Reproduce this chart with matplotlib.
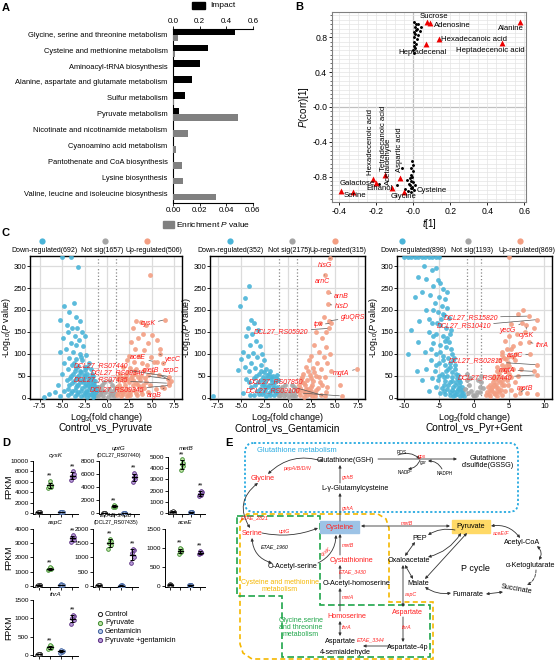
import numpy as np
import matplotlib
matplotlib.use("Agg")
import matplotlib.pyplot as plt
from matplotlib.patches import Rectangle, FancyBboxPatch, Polygon
from matplotlib.lines import Line2D
from matplotlib.ticker import MultipleLocator

plt.rcParams['font.family'] = ['Liberation Sans', 'DejaVu Sans']
plt.rcParams['mathtext.fontset'] = 'custom'
plt.rcParams['mathtext.rm'] = 'Liberation Sans'
plt.rcParams['mathtext.it'] = 'Liberation Sans:italic'
plt.rcParams['mathtext.bf'] = 'Liberation Sans:bold'
plt.rcParams['axes.unicode_minus'] = False

W, H = 557, 660

# ---------------- A: pathway enrichment ----------------
pathways = ['Glycine, serine and threonine metabolism', 'Cysteine and methionine metabolism',
            'Aminoacyl-tRNA biosynthesis', 'Alanine, aspartate and glutamate metabolism',
            'Sulfur metabolism', 'Pyruvate metabolism', 'Nicotinate and nicotinamide metabolism',
            'Cyanoamino acid metabolism', 'Pantothenate and CoA biosynthesis',
            'Lysine biosynthesis', 'Valine, leucine and isoleucine biosynthesis']
impact = [0.465, 0.26, 0.20, 0.145, 0.09, 0.045, 0.01, 0.0, 0.0, 0.0, 0.0]
enrich_p = [0.004, 0.0015, 0.0, 0.0, 0.0005, 0.049, 0.011, 0.002, 0.0068, 0.0078, 0.032]

# ---------------- B: S-plot ----------------
b_names = ['Sucrose', 'Adenosine', 'Alanine', 'Hexadecanoic acid', 'Heptadecenal', 'Heptadecenoic acid',
           'Hexadecenoic acid', 'Tetradecanoic acid', 'Acetaldehyde', 'Aspartic acid',
           'Galactose', 'Serine', 'Ethanol', 'Glycine']
b_t = [0.075, 0.09, 0.578, 0.141, 0.069, 0.481, -0.22, -0.151, -0.114, -0.07, -0.389, -0.326, -0.2, -0.052]
b_p = [0.975, 0.96, 0.975, 0.78, 0.723, 0.735, -0.823, -0.777, -0.935, -0.82, -0.96, -0.975, -0.87, -0.975]
b_dots_t = [0.005, 0.012, 0.008, 0.02, 0.015, 0.003, 0.01, 0.025, 0.006, 0.018, 0.004, 0.012, 0.002, 0.009,
            0.001, 0.005, 0.035, 0.04, 0.028, -0.005, -0.002, -0.01, -0.004, -0.015, -0.008, -0.02, -0.012,
            -0.003, -0.025, -0.018, -0.006, -0.035, -0.045, -0.028, -0.01, -0.06, -0.09, -0.015, 0.01, 0.005,
            -0.185, -0.007]
b_dots_p = [0.97, 0.95, 0.92, 0.9, 0.88, 0.86, 0.84, 0.83, 0.8, 0.78, 0.75, 0.72, 0.7, 0.68,
            0.65, 0.62, 0.87, 0.92, 0.95, -0.62, -0.67, -0.7, -0.74, -0.78, -0.8, -0.82, -0.85,
            -0.86, -0.88, -0.9, -0.92, -0.84, -0.94, -0.96, -0.98, -0.7, -0.9, -0.93, -0.9, -0.95,
            -0.88, -0.93]

# ---------------- C: volcano plots ----------------
c1_down = [(-5.0, 320), (-4.0, 320), (-3.2, 297), (-4.8, 210), (-3.7, 215), (-5.2, 178), (-4.2, 195), (-3.5, 185),
           (-3.0, 175), (-4.5, 165), (-3.9, 158), (-3.3, 160), (-2.8, 150), (-4.3, 150), (-3.6, 140), (-4.9, 135),
           (-3.1, 132), (-2.5, 140), (-4.0, 125), (-3.4, 120), (-2.7, 118), (-5.3, 105), (-4.6, 110), (-3.8, 105),
           (-3.0, 100), (-2.3, 98), (-4.2, 90), (-3.5, 88), (-2.8, 85), (-2.0, 80), (-4.8, 80), (-3.9, 75),
           (-3.2, 72), (-2.5, 70), (-1.8, 65), (-4.4, 65), (-3.6, 60), (-2.9, 58), (-2.2, 55), (-1.5, 50),
           (-5.0, 55), (-4.0, 50), (-3.3, 48), (-2.6, 45), (-1.9, 42), (-1.3, 38), (-4.5, 40), (-3.7, 38),
           (-3.0, 35), (-2.3, 32), (-1.6, 30), (-1.1, 25), (-5.5, 30), (-4.2, 28), (-3.5, 25), (-2.8, 22),
           (-2.0, 20), (-1.4, 18), (-4.8, 15), (-3.9, 15), (-3.2, 12), (-2.5, 10), (-1.8, 8), (-1.2, 6),
           (-6.5, 8), (-5.8, 12), (-4.4, 5), (-3.6, 4), (-2.9, 3), (-2.2, 2), (-1.5, 2), (-5.2, 3), (-7.0, 2),
           (-2.1, 28), (-2.7, 35), (-1.7, 55), (-2.4, 62), (-3.4, 67), (-1.2, 12), (-2.0, 45), (-1.6, 15),
           (-2.6, 52), (-3.1, 42), (-1.4, 28), (-2.3, 15), (-3.3, 30), (-1.9, 33),
           (-3.8, 55), (-3.1, 52), (-2.4, 50), (-1.7, 47), (-4.1, 44), (-3.4, 42), (-2.7, 40), (-2.1, 37),
           (-1.5, 34), (-3.9, 33), (-3.2, 30), (-2.5, 27), (-1.9, 24), (-1.3, 21), (-4.3, 20), (-3.6, 18),
           (-2.9, 16), (-2.2, 13), (-1.6, 11), (-4.0, 10), (-3.3, 8), (-2.6, 6), (-2.0, 5), (-1.4, 4),
           (-3.0, 60), (-2.2, 70), (-3.7, 78), (-2.9, 92), (-1.5, 40), (-1.1, 18)]
c1_ns = [(-0.9, 25), (-0.5, 18), (-0.2, 12), (0.3, 10), (0.7, 15), (0.9, 22), (-0.8, 8), (-0.4, 4), (0.1, 2),
         (0.5, 5), (0.8, 3), (-0.6, 30), (0.6, 28), (-1.0, 3), (0.2, 20), (-0.3, 35), (0.4, 38), (-0.7, 14), (0.9, 8)]
c1_up = [(4.8, 280), (3.3, 175), (3.8, 172), (4.4, 165), (2.9, 160), (4.0, 145), (5.1, 142), (5.6, 132),
         (3.5, 135), (4.6, 125), (2.7, 128), (5.9, 112), (3.1, 110), (4.2, 108), (2.5, 95), (3.6, 95),
         (4.9, 92), (5.6, 82), (2.2, 85), (3.0, 82), (3.9, 78), (4.5, 75), (1.8, 70), (2.6, 68), (3.3, 65),
         (4.1, 62), (5.0, 58), (5.8, 52), (1.5, 55), (2.1, 52), (2.8, 50), (3.5, 48), (4.3, 45), (1.3, 40),
         (1.9, 38), (2.5, 36), (3.2, 33), (4.0, 30), (4.8, 28), (1.1, 25), (1.6, 22), (2.3, 20), (3.0, 18),
         (3.8, 15), (1.2, 10), (1.8, 8), (2.6, 6), (3.4, 5), (5.5, 20), (6.2, 25), (1.4, 30), (2.0, 44),
         (2.4, 58), (1.7, 14), (2.9, 40), (3.6, 24),
         (1.2, 48), (1.7, 45), (2.2, 42), (2.7, 45), (3.1, 55), (3.7, 40), (4.4, 35), (1.5, 18), (2.0, 15),
         (2.6, 12), (3.2, 10), (3.9, 8), (4.6, 12), (1.1, 5), (1.6, 4), (2.2, 3), (2.9, 28), (3.5, 30),
         (4.2, 22), (2.0, 30), (1.3, 15), (2.4, 8), (3.0, 60), (3.8, 50), (4.6, 52)]
c1_lab_names = ['cysK', 'aceE', 'yecC', 'aspC', 'DCL27_RS07440', 'DCL27_RS09340', 'metB',
                'DCL27_RS07435', 'DCL27_RS09345', 'argB']
c1_lab_pts = [(6.5, 178), (5.3, 82), (5.9, 99), (6.3, 78), (7.0, 48), (6.8, 43), (7.2, 38), (6.9, 33),
              (7.0, 28), (6.4, 22)]

c2_down = [(-4.2, 255), (-4.6, 228), (-5.1, 208), (-3.9, 178), (-3.6, 170), (-4.3, 160), (-3.2, 155), (-3.8, 145),
           (-4.5, 140), (-3.4, 130), (-4.0, 120), (-3.0, 118), (-4.8, 105), (-3.7, 102), (-2.8, 100), (-4.3, 95),
           (-3.3, 92), (-5.0, 88), (-2.6, 85), (-3.9, 80), (-2.9, 75), (-4.6, 70), (-3.5, 68), (-2.3, 65),
           (-5.3, 62), (-4.1, 60), (-3.1, 55), (-2.0, 55), (-1.6, 50), (-2.7, 48), (-3.6, 45), (-4.5, 42),
           (-1.8, 42), (-2.4, 38), (-3.2, 35), (-1.4, 35), (-2.0, 30), (-2.8, 28), (-3.9, 25), (-1.2, 25),
           (-1.7, 20), (-2.4, 18), (-3.3, 15), (-1.3, 12), (-2.0, 10), (-2.8, 8), (-1.5, 5), (-2.3, 3),
           (-3.6, 5), (-8.0, 3), (-4.8, 10), (-1.9, 60), (-2.5, 58), (-1.1, 8), (-2.2, 45), (-1.5, 22),
           (-2.9, 40), (-1.8, 15),
           (-1.3, 45), (-1.7, 35), (-2.1, 25), (-2.6, 32), (-3.0, 20), (-3.5, 30), (-4.1, 35), (-1.4, 15),
           (-1.9, 5), (-2.6, 12), (-3.1, 8), (-4.0, 5), (-1.2, 52), (-2.2, 52), (-2.9, 60), (-3.4, 50),
           (-1.6, 28), (-2.4, 25), (-1.1, 40), (-1.8, 48)]
c2_ns = [(-0.9, 20), (-0.5, 14), (-0.2, 8), (0.3, 9), (0.7, 14), (0.9, 20), (-0.8, 6), (-0.4, 3), (0.1, 2),
         (0.5, 4), (0.8, 3), (-0.6, 25), (0.6, 24), (-1.0, 3), (0.2, 15), (-0.3, 28), (0.4, 30), (-0.7, 12)]
c2_up = [(3.8, 183), (3.4, 170), (4.1, 150), (3.0, 150), (3.6, 135), (2.8, 120), (4.0, 115), (3.3, 105),
         (4.5, 100), (2.5, 95), (3.8, 92), (2.2, 85), (3.1, 80), (4.2, 78), (1.9, 70), (2.7, 68), (3.5, 65),
         (4.6, 60), (1.6, 55), (2.3, 52), (3.0, 50), (3.9, 48), (1.4, 42), (2.0, 40), (2.7, 38), (3.4, 35),
         (1.2, 30), (1.8, 28), (2.5, 25), (3.2, 22), (1.1, 18), (1.6, 15), (2.2, 12), (2.9, 10), (1.3, 6),
         (2.0, 5), (2.6, 3), (5.5, 28), (4.2, 25), (1.5, 35), (2.4, 45), (1.8, 10),
         (1.3, 22), (1.7, 33), (2.1, 20), (2.6, 30), (3.0, 18), (3.6, 28), (4.0, 12), (1.2, 12), (1.7, 2),
         (2.3, 8), (2.9, 4), (3.5, 6), (1.5, 48), (2.1, 60), (2.8, 58), (3.3, 48), (1.9, 20), (2.5, 15)]
c2_lab_names = ['hisG', 'arnC', 'arnB', 'hisD', 'gluQRS', 'tpx', 'DCL27_RS05920', 'mgtA',
                'DCL27_RS07850', 'DCL27_RS09100']
c2_lab_pts = [(4.5, 318), (3.9, 280), (4.3, 240), (4.3, 213), (4.35, 175), (4.6, 170), (4.4, 158),
              (7.3, 65), (3.9, 4), (5.7, 4)]

c3_down = [(-10, 320), (-9.5, 320), (-9, 320), (-8.5, 320), (-8, 320), (-7.5, 320), (-7, 320), (-6.5, 320),
           (-6, 320), (-5.5, 320), (-5, 320), (-7.2, 300), (-6.0, 290), (-5.5, 295), (-8.0, 275), (-6.8, 270),
           (-5.2, 268), (-4.8, 262), (-5.8, 255), (-4.5, 248), (-7.5, 240), (-6.3, 235), (-5.0, 230),
           (-4.2, 225), (-8.5, 230), (-5.6, 215), (-4.6, 210), (-3.9, 205), (-6.8, 200), (-5.2, 195),
           (-4.3, 188), (-3.6, 182), (-7.8, 175), (-6.0, 170), (-4.9, 165), (-4.0, 160), (-3.3, 155),
           (-9.0, 155), (-6.5, 150), (-5.4, 145), (-4.5, 140), (-3.8, 135), (-8.0, 128), (-5.9, 125),
           (-4.8, 120), (-4.0, 115), (-3.3, 110), (-9.5, 100), (-7.0, 105), (-5.5, 100), (-4.5, 95),
           (-3.7, 90), (-3.0, 85), (-6.2, 85), (-5.0, 80), (-4.1, 75), (-3.4, 70), (-2.8, 65), (-6.8, 65),
           (-5.6, 60), (-4.6, 55), (-3.8, 50), (-3.1, 48), (-2.5, 45), (-6.0, 45), (-5.1, 40), (-4.2, 38),
           (-3.5, 35), (-2.8, 30), (-2.2, 28), (-5.5, 25), (-4.6, 22), (-3.8, 20), (-3.1, 18), (-2.4, 15),
           (-1.9, 12), (-4.9, 10), (-4.1, 8), (-3.4, 6), (-2.7, 5), (-2.0, 4), (-1.5, 3), (-6.5, 15),
           (-7.5, 40), (-8.2, 60), (-3.9, 240), (-4.4, 190), (-3.2, 100), (-2.6, 55), (-2.0, 35), (-3.0, 25),
           (-2.3, 20), (-1.8, 25), (-3.6, 128), (-2.9, 90), (-4.7, 180), (-5.3, 170),
           (-2.2, 40), (-2.6, 35), (-3.2, 38), (-3.7, 28), (-4.3, 30), (-1.7, 18), (-2.1, 22), (-2.9, 12),
           (-3.5, 12), (-4.3, 15), (-1.8, 6), (-2.4, 8), (-3.0, 4), (-4.0, 60), (-3.5, 78), (-4.4, 85),
           (-3.1, 58), (-2.7, 75), (-4.9, 105), (-4.2, 130), (-3.5, 145), (-5.8, 140), (-6.2, 110),
           (-2.3, 52), (-1.6, 10), (-5.0, 50), (-4.3, 48), (-3.7, 65), (-5.4, 75), (-6.5, 180), (-5.8, 200)]
c3_ns = [(-1.0, 40), (-0.7, 28), (-0.4, 15), (0.0, 3), (0.4, 12), (0.8, 25), (1.0, 35), (-0.9, 10), (0.9, 12),
         (-0.2, 6), (0.2, 5), (-0.6, 45), (0.6, 40), (-0.95, 55), (0.95, 50), (-1.3, 20), (1.3, 22)]
c3_up = [(5.0, 320), (7.0, 200), (6.2, 190), (5.3, 168), (8.5, 160), (7.2, 150), (6.1, 145), (5.0, 140),
         (4.4, 130), (6.6, 125), (5.6, 118), (4.7, 110), (3.9, 105), (6.0, 100), (5.0, 95), (4.2, 90),
         (3.5, 85), (5.8, 85), (4.8, 80), (3.9, 75), (3.2, 70), (6.7, 65), (5.5, 65), (4.5, 60), (3.6, 55),
         (2.9, 50), (6.2, 50), (5.2, 48), (4.2, 45), (3.4, 40), (2.7, 35), (5.8, 35), (4.8, 30), (3.9, 28),
         (3.1, 25), (2.4, 20), (5.3, 18), (4.4, 15), (3.6, 12), (2.8, 10), (2.1, 8), (1.7, 5), (3.3, 3),
         (4.0, 5), (5.8, 5), (7.6, 10), (9.0, 8), (6.5, 20), (2.3, 30), (3.0, 42), (3.8, 62), (4.5, 72),
         (2.6, 25), (3.3, 15),
         (1.9, 12), (2.3, 4), (2.6, 15), (3.0, 8), (3.4, 22), (3.8, 18), (4.2, 30), (4.7, 40), (5.0, 55),
         (4.0, 38), (3.7, 35), (3.1, 32), (2.8, 28), (2.2, 18), (2.0, 25), (3.5, 48), (4.3, 65), (4.9, 72),
         (5.5, 92), (4.6, 88), (5.2, 110), (4.0, 98), (3.2, 60), (2.7, 45)]
c3_lab_names = ['DCL27_RS15820', 'DCL27_RS10410', 'yecG', 'cysK', 'thrA', 'aspC', 'DCL27_RS02815',
                'mgtA', 'DCL27_RS07440', 'metB']
c3_lab_pts = [(7.8, 186), (9.0, 178), (6.8, 170), (7.4, 165), (7.8, 127), (8.0, 99), (9.0, 75),
              (8.6, 60), (8.9, 52), (6.5, 10)]

# ---------------- D: FPKM of selected genes ----------------
groups = ['Control', 'Pyruvate', 'Gentamicin', 'Pyruvate +gentamicin']
cysk_fpkm = [[60, 120, 90, 150, 100], [4900, 5050, 5200, 5400, 6200], [150, 250, 200, 180, 120], [6400, 6900, 7200, 7500, 8000]]
uptg_fpkm = [[20, 40, 10, 30, 25], [850, 950, 1000, 1100, 1200], [20, 30, 15, 10, 25], [4800, 5200, 5500, 5900, 6200]]
metb_fpkm = [[80, 120, 60, 100, 150], [3800, 4200, 4350, 4500, 4800], [40, 60, 30, 50, 80], [1500, 1600, 1700, 1850, 2000]]
aspc_fpkm = [[20, 40, 30, 50, 10], [1100, 1180, 1220, 1260, 1300], [60, 80, 100, 70, 90], [3100, 3250, 3350, 3450, 3550]]
etae3430_fpkm = [[10, 20, 15, 5, 25], [1300, 1450, 1520, 1580, 1650], [10, 15, 20, 5, 12], [800, 1000, 1150, 1250, 1300]]
acee_fpkm = [[20, 30, 40, 25, 35], [850, 890, 920, 960, 1000], [10, 15, 12, 20, 8], [830, 860, 880, 900, 920]]
thra_fpkm = [[10, 20, 30, 15, 25], [150, 180, 210, 240, 260], [60, 80, 100, 120, 130], [850, 950, 1000, 1050, 1100]]

C_DOWN, C_NS, C_UP = '#4AB4D8', '#A5A5A5', '#F39E82'
D_EDGE = ['#222222', '#3C8B2E', '#3D5E9C', '#5A2D82']
D_FACE = ['#FFFFFF', '#BFE3A6', '#B8CBEA', '#B79CD8']

fig = plt.figure(figsize=(W / 100, H / 100), dpi=100)


def rect(l, t, w, h):
    return [l / W, 1 - (t + h) / H, w / W, h / H]


def ftext(x, y, s, **kw):
    kw.setdefault('ha', 'center')
    kw.setdefault('va', 'center')
    fig.text(x / W, 1 - y / H, s, **kw)


def fdot(x, y, color, ms=4.5):
    fig.add_artist(Line2D([x / W], [1 - y / H], marker='o', ms=ms, color=color, mec='none',
                          transform=fig.transFigure))


for lab, x, y in [('A', 6, 8), ('B', 299, 7), ('C', 6, 233), ('D', 6, 443), ('E', 229, 443)]:
    ftext(x, y, lab, fontsize=8, fontweight='bold')

# ---- panel A ----
axA = fig.add_axes(rect(173, 29, 80, 174))
yy = np.arange(len(pathways))
axA.barh(yy - 0.2, impact, height=0.4, color='black')
axA.set_xlim(0, 0.6)
axA.set_ylim(10.57, -0.38)
axA.set_yticks(yy - 0.05)
axA.set_yticklabels(pathways, fontsize=5.4)
axA.tick_params(axis='y', length=0, pad=4)
axA2 = axA.twiny()
axA2.barh(yy + 0.2, enrich_p, height=0.4, color='#808080')
axA2.set_xlim(0, 0.06)
axA2.xaxis.tick_bottom()
axA2.set_xticks([0, 0.02, 0.04, 0.06])
axA2.set_xticklabels(['0.00', '0.02', '0.04', '0.06'])
axA2.tick_params(axis='x', labelsize=5.8, length=2, width=0.6, pad=1)
for s in ('top', 'right', 'left'):
    axA2.spines[s].set_visible(False)
axA2.spines['bottom'].set_visible(True)
# twiny moves the original ticks to the bottom, put them back on top
axA.xaxis.tick_top()
axA.set_xticks([0, 0.2, 0.4, 0.6])
axA.set_xticklabels(['0.0', '0.2', '0.4', '0.6'])
axA.tick_params(axis='x', labelsize=5.8, length=2, width=0.6, pad=1)
axA.spines['right'].set_visible(False)
axA.spines['bottom'].set_visible(False)
fig.add_artist(Rectangle((192 / W, 1 - 9 / H), 13 / W, 7 / H, color='black', transform=fig.transFigure))
ftext(210, 5.5, 'Impact', fontsize=6, ha='left')
fig.add_artist(Rectangle((163 / W, 1 - 228 / H), 11 / W, 7 / H, color='#808080', transform=fig.transFigure))
ftext(176, 224.5, 'Enrichment $P$ value', fontsize=6, ha='left')

# ---- panel B ----
axB = fig.add_axes(rect(332, 12, 194, 190))
axB.set_xlim(-0.44, 0.61)
axB.set_ylim(-1.09, 1.09)
axB.xaxis.set_minor_locator(MultipleLocator(0.05))
axB.yaxis.set_minor_locator(MultipleLocator(0.05))
axB.grid(which='both', color='#e4e4e4', lw=0.5, zorder=0)
axB.axhline(0, color='#707070', lw=0.8, zorder=1)
axB.axvline(0, color='#707070', lw=0.8, zorder=1)
axB.scatter(b_dots_t, b_dots_p, s=1.2, color='black', zorder=3)
axB.scatter(b_t, b_p, marker='^', s=18, color='#EE0000', lw=0, zorder=4)
axB.set_xticks([-0.4, -0.2, 0, 0.2, 0.4, 0.6])
axB.set_xticklabels(['-0.4', '-0.2', '-0.0', '0.2', '0.4', '0.6'])
axB.set_yticks([-0.8, -0.4, 0, 0.4, 0.8])
axB.set_yticklabels(['-0.8', '-0.4', '-0.0', '0.4', '0.8'])
axB.tick_params(labelsize=6.2, length=2, width=0.6, pad=1.5)
axB.tick_params(axis='x', which='minor', length=0)
axB.tick_params(axis='y', which='minor', length=1.3, width=0.4)
for s in axB.spines.values():
    s.set_color('#808080')
axB.set_xlabel('$t$[1]', fontsize=7, labelpad=1)
axB.set_ylabel('$P$(corr)[1]', fontsize=7, labelpad=1)
b_label_pos = {'Sucrose': (0.11, 1.04), 'Adenosine': (0.209, 0.937), 'Alanine': (0.53, 0.905),
               'Hexadecanoic acid': (0.326, 0.78), 'Heptadecenal': (0.05, 0.625),
               'Heptadecenoic acid': (0.416, 0.643), 'Galactose': (-0.304, -0.88),
               'Ethanol': (-0.182, -0.93), 'Serine': (-0.314, -1.017), 'Glycine': (-0.052, -1.025),
               'Cysteine': (0.101, -0.957)}
for name, (x, y) in b_label_pos.items():
    axB.text(x, y, name, fontsize=5.6, ha='center', va='center', zorder=5)
for name, x, y in [('Hexadecenoic acid', -0.232, -0.777), ('Tetradecanoic acid', -0.161, -0.731),
                   ('Acetaldehyde', -0.134, -0.89), ('Aspartic acid', -0.074, -0.743)]:
    axB.text(x, y, name, fontsize=5.6, rotation=90, ha='center', va='bottom', zorder=5)


# ---- panel C ----
def volcano(l, w, down, ns, up, lab_names, lab_pts, lab_xy, xlim, xticks, counts, leg_x, title):
    ax = fig.add_axes(rect(l, 256, w, 143))
    for arr, c in ((down, C_DOWN), (ns, C_NS), (up, C_UP), (lab_pts, C_UP)):
        a = np.array(arr, dtype=float)
        ax.scatter(a[:, 0], a[:, 1], s=12, color=c, lw=0, alpha=0.9, zorder=3)
    for name, (px, py), (tx, ty) in zip(lab_names, lab_pts, lab_xy):
        ax.annotate(name, xy=(px, py), xytext=(tx, ty), fontsize=5, style='italic', color='#FF1A1A',
                    ha='center', va='center', zorder=6,
                    arrowprops=dict(arrowstyle='-', color='#555555', lw=0.5, shrinkA=0, shrinkB=1.5))
    ax.set_xlim(xlim)
    ax.set_ylim(-3, 323)
    ax.set_xticks(xticks)
    ax.set_yticks(range(0, 301, 50))
    ax.grid(color='#dcdcdc', lw=0.9, zorder=0)
    for v in (-1, 1):
        ax.axvline(v, color='#888888', ls=':', lw=0.9, zorder=1)
    ax.tick_params(labelsize=5.6, length=2, width=0.6, pad=0.8)
    for s in ax.spines.values():
        s.set_linewidth(1.0)
    ax.set_ylabel('-Log$_{10}$($P$ value)', fontsize=6.3, labelpad=0)
    ax.set_xlabel('Log$_{2}$(fold change)', fontsize=6.5, labelpad=0.5)
    ftext(l + w / 2, 428, title, fontsize=7.3)
    names = ['Down-regulated(%d)' % counts[0], 'Not sig(%d)' % counts[1], 'Up-regulated(%d)' % counts[2]]
    for (dx, tx), nm, c in zip(leg_x, names, (C_DOWN, C_NS, C_UP)):
        fdot(dx, 241, c)
        ftext(tx, 250, nm, fontsize=5)
    return ax


volcano(30, 152, c1_down, c1_ns, c1_up, c1_lab_names, c1_lab_pts,
        [(4.6, 168), (3.5, 91), (7.3, 87), (7.15, 63), (-0.7, 72), (1.3, 57.5), (4.9, 63),
         (-0.7, 40), (1.13, 17), (5.3, 6)],
        (-8.6, 8.4), [-7.5, -5, -2.5, 0, 2.5, 5, 7.5], (692, 1657, 506),
        [(42, 44), (105, 102), (147, 154)], 'Control_vs_Pyruvate')
volcano(210, 155, c2_down, c2_ns, c2_up, c2_lab_names, c2_lab_pts,
        [(3.9, 302), (3.7, 265), (5.7, 230), (5.7, 207), (6.9, 183), (3.2, 166), (-0.7, 151),
         (5.7, 56), (-1.3, 36), (-1.55, 15)],
        (-8.3, 8.2), [-7.5, -5, -2.5, 0, 2.5, 5, 7.5], (352, 2175, 315),
        [(230, 230), (292, 289), (335, 338)], 'Control_vs_Gentamicin')
volcano(397, 155, c3_down, c3_ns, c3_up, c3_lab_names, c3_lab_pts,
        [(-0.5, 183), (-1.5, 163), (4.8, 153), (7.5, 142), (9.7, 118), (5.8, 97), (0.33, 84),
         (4.7, 63), (1.5, 45), (7.3, 21)],
        (-11, 11.1), [-10, -5, 0, 5, 10], (898, 1193, 869),
        [(402, 413), (468, 472), (520, 527)], 'Control_vs_Pyr+Gent')

# ---- panel D ----
JIT = [-0.13, 0.1, -0.04, 0.13, 0.02]


def strip(l, t, w, h, vals, ymax, step, title, sub=None, title_y=1.08):
    ax = fig.add_axes(rect(l, t, w, h))
    for i, g in enumerate(vals):
        g = np.array(g, dtype=float)
        x = i + 1
        ax.scatter(x + np.array(JIT[:len(g)]), g, s=7, facecolor=D_FACE[i], edgecolor=D_EDGE[i],
                   lw=0.6, zorder=3)
        m, sd = g.mean(), g.std(ddof=1)
        ax.plot([x - 0.25, x + 0.25], [m, m], color='black', lw=0.9, zorder=4)
        ax.errorbar(x, m, yerr=sd, color='black', lw=0.7, capsize=1.2, capthick=0.7, zorder=4)
        if i in (1, 3):
            ax.text(x, g.max() + ymax * 0.02, '**', ha='center', va='bottom', fontsize=5)
    ax.set_xlim(0.5, 4.5)
    ax.set_ylim(-ymax * 0.02, ymax)
    ax.set_xticks([1, 2, 3, 4])
    ax.set_xticklabels([])
    ax.set_yticks(np.arange(0, ymax + 1, step))
    ax.spines['top'].set_visible(False)
    ax.spines['right'].set_visible(False)
    for s in ax.spines.values():
        s.set_linewidth(0.7)
    ax.tick_params(labelsize=4.6, length=2, width=0.6, pad=1)
    if sub:
        ax.text(0.5, 1.2, title, transform=ax.transAxes, ha='center', fontsize=4.6, style='italic')
        ax.text(0.5, 1.08, sub, transform=ax.transAxes, ha='center', fontsize=3.8)
    else:
        ax.text(0.5, title_y, title, transform=ax.transAxes, ha='center', fontsize=4.6, style='italic')
    return ax


strip(33, 461, 45, 53, cysk_fpkm, 10000, 2000, 'cysK')
strip(99, 461, 40, 53, uptg_fpkm, 8000, 2000, 'uptG', '(DCL27_RS07440)')
strip(168, 457, 37, 57, metb_fpkm, 5000, 1000, 'metB', title_y=1.13)
strip(33, 529, 45, 58, aspc_fpkm, 4000, 1000, 'aspC')
strip(93, 529, 45, 58, etae3430_fpkm, 2000, 500, 'ETAE-3430', '(DCL27_RS07435)')
strip(165, 529, 40, 58, acee_fpkm, 1500, 500, 'aceE')
strip(33, 600, 45, 56, thra_fpkm, 1500, 500, 'thrA')
for yc in (487, 558, 628):
    ftext(9, yc, 'FPKM', fontsize=6.3, rotation=90)
for i, g in enumerate(groups):
    fig.add_artist(Line2D([100 / W], [1 - (614 + 8.7 * i) / H], marker='o', ms=3, mfc=D_FACE[i],
                          mec=D_EDGE[i], mew=0.7, transform=fig.transFigure))
    ftext(105, 614 + 8.7 * i, g, fontsize=5.3, ha='left')

# ---- panel E: pathway scheme ----
axE = fig.add_axes(rect(200, 430, 357, 230))
axE.set_xlim(200, 557)
axE.set_ylim(660, 430)
axE.axis('off')
axE.patch.set_visible(False)

axE.add_patch(FancyBboxPatch((245, 443), 273, 69, boxstyle='round,pad=0,rounding_size=9',
                             fill=False, ec='#27AAE1', ls=(0, (1.2, 1.2)), lw=1.3))
axE.add_patch(Polygon([(240, 522), (247, 514), (378, 514), (386, 519), (389, 528), (389, 602), (433, 602),
                       (433, 659), (252, 659), (243, 653), (240, 644)], closed=True, fill=False,
                      ec='#F5B700', ls=(0, (3, 2)), lw=1.2))
axE.add_patch(Polygon([(237, 516), (320, 516), (320, 605), (430, 605), (430, 657), (282, 657), (282, 596),
                       (237, 596)], closed=True, fill=False, ec='#1FA64A', ls=(0, (4, 2)), lw=1.2))
axE.add_patch(Rectangle((320, 521), 39, 12, color='#9DC3E6', zorder=2))
axE.add_patch(Rectangle((452, 520), 38, 13, color='#FFD966', zorder=2))

RED = '#FF2020'
e_texts = [
    (297, 450, 'Glutathione metabolism', '#27AAE1', 5.4, 'normal'),
    (345, 460, 'Glutathione(GSH)', 'black', 5.2, 'normal'),
    (297, 468, 'pepA/B/D/N', RED, 3.8, 'italic'),
    (263, 478, 'Glycine', RED, 5.2, 'normal'),
    (348, 477, 'gshB', RED, 3.8, 'italic'),
    (355, 488, 'L-γ-Glutamylcysteine', 'black', 5.2, 'normal'),
    (348, 508, 'gshA', RED, 3.8, 'italic'),
    (340, 527, 'Cysteine', RED, 5.2, 'normal'),
    (255, 518, 'ETAE_2821', RED, 3.8, 'italic'),
    (252, 533, 'Serine', RED, 5.2, 'normal'),
    (284, 531, 'uptG', RED, 3.8, 'italic'),
    (275, 547, 'ETAE_1960', 'black', 3.8, 'italic'),
    (293, 566, 'O-Acetyl-serine', 'black', 5.2, 'normal'),
    (348, 545, 'metB', RED, 3.8, 'italic'),
    (352, 560, 'Cystathionine', RED, 5.2, 'normal'),
    (353, 572, 'ETAE_3430', RED, 3.8, 'italic'),
    (357, 583, 'O-Acetyl-homoserine', 'black', 5.2, 'normal'),
    (348, 597, 'metA', RED, 3.8, 'italic'),
    (347, 616, 'Homoserine', RED, 5.2, 'normal'),
    (347, 627, 'thrA', RED, 3.8, 'italic'),
    (340, 641, 'Aspartate', 'black', 5.2, 'normal'),
    (345, 652, '4-semialdehyde', 'black', 5.2, 'normal'),
    (371, 640, 'ETAE_3344', RED, 3.8, 'italic'),
    (280, 586, 'Cysteine and methionine\nmetabolism', '#F5B700', 5.0, 'normal'),
    (301, 627, 'Glycine,serine\nand threonine\nmetabolism', '#1FA64A', 5.0, 'normal'),
    (402, 452, 'ROS', 'black', 3.3, 'normal'),
    (422, 456, 'gpx', RED, 3.6, 'normal'),
    (423, 462, 'gor', 'black', 3.3, 'normal'),
    (405, 473, 'NADP$^{+}$', 'black', 3.3, 'normal'),
    (445, 473, 'NADPH', 'black', 3.3, 'normal'),
    (488, 462, 'Glutathione\ndisulfide(GSSG)', 'black', 5.2, 'normal'),
    (407, 523, 'metB', RED, 3.8, 'italic'),
    (471, 526.5, 'Pyruvate', 'black', 5.2, 'normal'),
    (501, 533, 'aceE/F', RED, 3.8, 'italic'),
    (522, 542, 'Acetyl-CoA', 'black', 5.2, 'normal'),
    (531, 565, 'α-Ketoglutarate', 'black', 5.2, 'normal'),
    (468, 594, 'Fumarate', 'black', 5.2, 'normal'),
    (418, 583, 'Malate', 'black', 5.2, 'normal'),
    (475, 568, 'P cycle', 'black', 6.5, 'normal'),
    (420, 538, 'PEP', 'black', 5.2, 'normal'),
    (409, 560, 'Oxaloacetate', 'black', 5.2, 'normal'),
    (411, 594, 'aspC', RED, 3.8, 'italic'),
    (407, 612, 'Aspartate', RED, 5.2, 'normal'),
    (407, 627, 'thrA', RED, 3.8, 'italic'),
    (408, 647, 'Aspartate-4p', 'black', 5.2, 'normal'),
]
for x, y, s, c, fs, st in e_texts:
    axE.text(x, y, s, color=c, fontsize=fs, style=st, ha='center', va='center', zorder=5,
             linespacing=1.0)
axE.text(517, 589, 'Succinate', fontsize=5.2, ha='center', va='center', rotation=-10, zorder=5)
axE.text(326, 552, 'cysK', color=RED, fontsize=3.8, style='italic', ha='center', va='center',
         rotation=35, zorder=5)

e_arrows = [
    (322, 461, 268, 474, '-|>', 0.3, '-'),
    (258, 483, 250, 528, '<|-|>', 0.45, '-'),
    (262, 533, 318, 528, '-|>', 0.15, '-'),
    (252, 538, 272, 563, '<|-|>', 0.35, '-'),
    (318, 563, 336, 535, '-|>', 0.3, '-'),
    (340, 555, 340, 534, '-|>', 0.0, '-'),
    (340, 579, 340, 565, '-|>', 0.0, '-'),
    (340, 611, 340, 588, '-|>', 0.0, '-'),
    (340, 636, 340, 621, '<|-|>', 0.0, '-'),
    (340, 521, 340, 493, '-|>', 0.0, '-'),
    (340, 483, 340, 465, '-|>', 0.0, '-'),
    (378, 459, 457, 459, '-|>', 0.0, '-'),
    (398, 455, 420, 459, '-|>', -0.3, '-'),
    (420, 460, 408, 469, '-|>', -0.3, '-'),
    (442, 469, 428, 461, '-|>', 0.3, '-'),
    (450, 526, 361, 526, '<|-|>', 0.0, '-'),
    (491, 526, 520, 538, '<|-|>', -0.3, '-'),
    (537, 546, 539, 560, '<|-|>', -0.4, '-'),
    (536, 570, 527, 585, '-|>', -0.3, '--'),
    (503, 592, 486, 594, '<|-|>', 0.0, '-'),
    (451, 593, 425, 587, '<|-|>', -0.2, '-'),
    (413, 579, 405, 565, '<|-|>', 0.0, '-'),
    (467, 533, 425, 579, '<|-|>', 0.0, '-'),
    (461, 533, 428, 557, '<|-|>', -0.2, '-'),
    (455, 530, 428, 535, '-|>', 0.2, '-'),
    (415, 542, 405, 556, '<|-|>', 0.0, '-'),
    (403, 565, 403, 607, '<|-|>', 0.0, '-'),
    (403, 617, 403, 642, '-|>', 0.0, '-'),
    (391, 646, 363, 646, '-|>', 0.0, '-'),
]
for x1, y1, x2, y2, st, rad, ls in e_arrows:
    axE.annotate('', xy=(x2, y2), xytext=(x1, y1), zorder=4,
                 arrowprops=dict(arrowstyle=st, color='#333333', lw=0.6, mutation_scale=4,
                                 connectionstyle='arc3,rad=%s' % rad, linestyle=ls,
                                 shrinkA=0, shrinkB=0))

fig.savefig('out.png', dpi=100)
